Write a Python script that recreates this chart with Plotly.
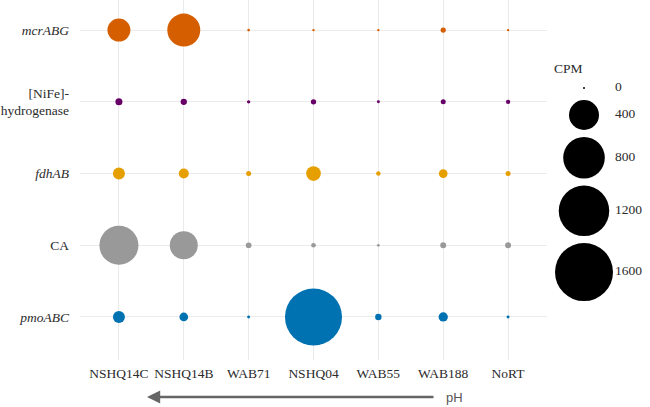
import numpy as np
import plotly.graph_objects as go

# ---- data ----
samples = ["NSHQ14C", "NSHQ14B", "WAB71", "NSHQ04", "WAB55", "WAB188", "NoRT"]
genes = ["pmoABC", "CA", "fdhAB", "[NiFe]-hydrogenase", "mcrABG"]  # bottom -> top
gene_labels = ["<i>pmoABC</i>", "CA", "<i>fdhAB</i>", "[NiFe]-<br>hydrogenase", "<i>mcrABG</i>"]
gene_colors = ["#0072B2", "#999999", "#E69F00", "#660066", "#D55E00"]

cpm_pmoABC = [51, 23, 0.5, 1545, 10, 27, 0.5]
cpm_CA = [700, 345, 7, 3.7, 0.3, 8, 8]
cpm_fdhAB = [51, 33, 4.6, 82, 3, 23, 4.6]
cpm_NiFe = [13, 9.5, 1, 5.6, 0.5, 4.6, 2.8]
cpm_mcrABG = [225, 490, 0.2, 0.1, 0.1, 5.5, 0.1]
cpm_values = [cpm_pmoABC, cpm_CA, cpm_fdhAB, cpm_NiFe, cpm_mcrABG]

legend_breaks = [0, 400, 800, 1200, 1600]
legend_title = "CPM"
direction_label = "pH"

W, H = 650, 407
FONT = "Liberation Serif"
TXT = "#2b2b2b"


def size_scale(v):
    # area-like size scale (diameter grows with sqrt of value)
    return 2 + 1.4 * np.sqrt(np.asarray(v, dtype=float))


fig = go.Figure()

for g, col, vals in zip(genes, gene_colors, cpm_values):
    fig.add_trace(go.Scatter(
        x=samples, y=[g] * len(samples), mode="markers",
        marker=dict(size=size_scale(vals), sizemode="diameter", color=col,
                    line=dict(width=0), opacity=1),
        xaxis="x", yaxis="y", showlegend=False, hoverinfo="skip",
    ))

# ---- size legend (drawn on a hidden pixel-scaled axis) ----
leg_d = size_scale(legend_breaks)
key_h = np.maximum(17, leg_d + 7)
centers = [88.0]
for i in range(1, len(legend_breaks)):
    centers.append(centers[-1] + (key_h[i - 1] + key_h[i]) / 2)

fig.add_trace(go.Scatter(
    x=[584] * len(legend_breaks), y=centers, mode="markers",
    marker=dict(size=leg_d, sizemode="diameter", color="#000000",
                line=dict(width=0), opacity=1),
    xaxis="x2", yaxis="y2", showlegend=False, hoverinfo="skip", cliponaxis=False,
))
fig.add_trace(go.Scatter(
    x=[615] * len(legend_breaks), y=centers, mode="text",
    text=[str(b) for b in legend_breaks], textposition="middle right",
    textfont=dict(family=FONT, size=13.5, color=TXT),
    xaxis="x2", yaxis="y2", showlegend=False, hoverinfo="skip", cliponaxis=False,
))

fig.update_layout(
    width=W, height=H,
    margin=dict(l=0, r=0, t=0, b=0),
    paper_bgcolor="white", plot_bgcolor="rgba(0,0,0,0)",
    font=dict(family=FONT, size=13.5, color=TXT),
    xaxis=dict(
        domain=[80 / W, 547 / W], type="category", categoryorder="array",
        categoryarray=samples, range=[-0.6, 6.6],
        showgrid=True, gridcolor="#ebebeb", gridwidth=1,
        zeroline=False, showline=False, ticks="", automargin=False,
        tickfont=dict(family=FONT, size=13.5, color=TXT),
        ticklabelstandoff=3,
    ),
    yaxis=dict(
        domain=[1 - 360 / H, 1], type="category", categoryorder="array",
        categoryarray=genes, tickvals=genes, ticktext=gene_labels,
        range=[-0.6, 4.42],
        showgrid=True, gridcolor="#ebebeb", gridwidth=1,
        zeroline=False, showline=False, ticks="", automargin=False,
        tickfont=dict(family=FONT, size=13.5, color=TXT),
        ticklabelstandoff=10,
    ),
    xaxis2=dict(domain=[540 / W, 1], range=[540, 650], visible=False,
                fixedrange=True, anchor="y2"),
    yaxis2=dict(domain=[0, 1], range=[H, 0], visible=False,
                fixedrange=True, anchor="x2"),
    showlegend=False,
)

# legend title
fig.add_annotation(
    x=552 / W, y=1 - 68 / H, xref="paper", yref="paper",
    text=legend_title, showarrow=False, xanchor="left", yanchor="middle",
    font=dict(family=FONT, size=13.5, color=TXT),
)

# pH direction arrow (head at left, tail offset in pixels to the right)
fig.add_annotation(
    x=147 / W, y=1 - 397 / H, xref="paper", yref="paper",
    ax=288, ay=0, axref="pixel", ayref="pixel",
    text="", showarrow=True, arrowhead=2, arrowsize=1.1, arrowwidth=2.4,
    arrowcolor="#666666", standoff=0, startstandoff=0,
)
fig.add_annotation(
    x=444 / W, y=1 - 397 / H, xref="paper", yref="paper",
    text=direction_label, showarrow=False, xanchor="left", yanchor="middle",
    font=dict(family="Liberation Sans", size=13, color="#555555"),
)

fig.write_html(
    "out.html",
    config={"displayModeBar": False},
    post_script="document.body.style.margin='0';document.body.style.overflow='hidden';",
)
